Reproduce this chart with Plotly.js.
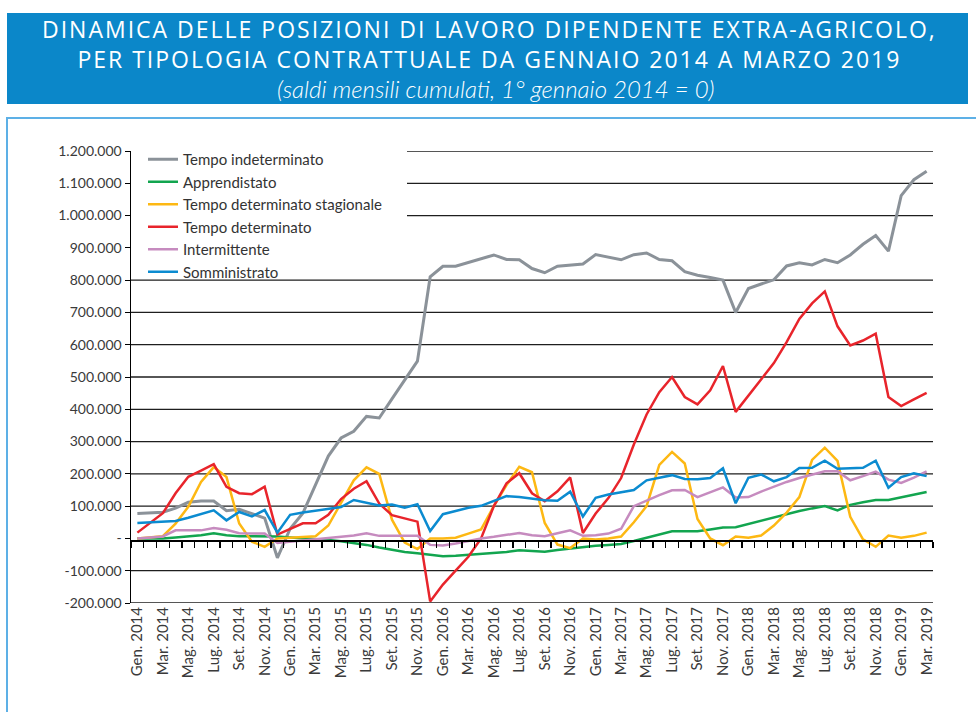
<!DOCTYPE html>
<html>
<head>
<meta charset="utf-8">
<script src="https://cdn.plot.ly/plotly-3.0.1.min.js"></script>
<style>html,body{margin:0;padding:0;background:#fff;}#chart{width:976px;height:712px;}</style>
</head>
<body>
<div id="chart"></div>
<script>
// ---- data (thousands of positions, cumulative monthly balances) ----
const monthNames = ["Gen.","Feb.","Mar.","Apr.","Mag.","Giu.","Lug.","Ago.","Set.","Ott.","Nov.","Dic."];
const years = [2014, 2015, 2016, 2017, 2018, 2019];
const nMonths = 63; // Gen. 2014 .. Mar. 2019

const tempoIndeterminato = [77,79,81,94,112,116,116,86,90,77,63,-60,30,78,165,255,311,332,378,373,432,491,549,810,843,843,855,868,878,864,863,836,823,843,846,850,879,872,863,879,884,864,860,826,815,808,800,700,774,788,801,844,854,847,864,854,878,911,938,890,1062,1111,1137];
const apprendistato = [0,0,0,3,6,10,16,10,7,7,7,6,3,1,-2,-5,-9,-14,-20,-28,-36,-42,-46,-50,-55,-54,-51,-50,-46,-42,-37,-40,-41,-36,-31,-26,-23,-20,-17,-8,2,13,22,22,22,28,34,35,45,56,66,77,85,93,100,87,104,112,119,119,128,136,144];
const tempoDetStagionale = [0,3,7,46,98,175,221,190,46,-10,-26,0,2,4,7,40,108,180,220,200,58,-13,-33,0,0,2,15,28,100,165,222,205,48,-19,-30,0,-3,0,6,50,100,228,268,232,60,0,-21,6,2,9,40,80,128,243,281,240,67,-3,-26,9,2,8,18];
const tempoDeterminato = [18,48,78,140,191,210,230,160,140,137,160,12,30,47,47,73,122,154,177,108,72,62,52,-195,-143,-100,-57,0,100,171,202,140,115,146,189,17,77,125,187,291,384,453,500,438,415,459,534,392,443,493,543,608,680,728,765,657,598,613,634,438,410,431,451];
const intermittente = [0,2,6,25,25,25,32,27,16,15,15,-14,-10,-7,-4,1,6,9,16,8,8,8,8,-20,-22,-16,-8,0,5,10,17,10,7,16,25,8,10,15,30,100,118,134,149,150,128,143,158,127,128,145,161,175,187,198,208,208,180,193,207,182,172,188,208];
const somministrato = [48,50,52,54,64,76,87,56,82,68,88,18,73,80,86,92,97,119,110,102,105,95,106,23,75,86,95,101,115,131,128,124,118,117,145,68,126,136,144,150,180,189,196,184,183,187,217,109,188,198,177,190,218,219,241,216,217,219,241,157,190,202,193];

const seriesNames = ["Tempo indeterminato","Apprendistato","Tempo determinato stagionale","Tempo determinato","Intermittente","Somministrato"];
const seriesColors = ["#8b9299","#12a54f","#fdb813","#e8242b","#c68bbf","#0b8bd0"];

const yTickVals = [-200000,-100000,0,100000,200000,300000,400000,500000,600000,700000,800000,900000,1000000,1100000,1200000];
const yTickText = ["-200.000","-100.000","-","100.000","200.000","300.000","400.000","500.000","600.000","700.000","800.000","900.000","1.000.000","1.100.000","1.200.000"];

const titleLines = ["DINAMICA DELLE POSIZIONI DI LAVORO DIPENDENTE EXTRA-AGRICOLO,", "PER TIPOLOGIA CONTRATTUALE DA GENNAIO 2014 A MARZO 2019"];
const subtitle = "(saldi mensili cumulati, 1° gennaio 2014 = 0)";

// ---- categories ----
const months = [];
for (let i = 0; i < nMonths; i++) {
  months.push(monthNames[i % 12] + " " + years[Math.floor(i / 12)]);
}
const labelIdx = [], labelText = [];
for (let i = 0; i < nMonths; i += 2) { labelIdx.push(i); labelText.push(months[i]); }

// ---- geometry helpers (page px -> paper) ----
const W = 976, H = 712;
const M = {l: 131, r: 43, t: 151, b: 109};
const pw = W - M.l - M.r, ph = H - M.t - M.b;
const px = x => (x - M.l) / pw;
const py = y => (H - M.b - y) / ph;

const allSeries = [tempoIndeterminato, apprendistato, tempoDetStagionale, tempoDeterminato, intermittente, somministrato];
const traces = allSeries.map((s, k) => ({
  type: "scatter",
  mode: "lines",
  name: seriesNames[k],
  x: months,
  y: s.map(v => v * 1000),
  line: {color: seriesColors[k], width: k === 0 ? 3 : 2.5},
  hoverinfo: "x+y+name"
}));
// empty helper trace so that the bottom label axis (x2) is drawn
traces.push({type: "scatter", mode: "lines", x: labelIdx, y: labelIdx.map(() => null),
  xaxis: "x2", yaxis: "y", showlegend: false, hoverinfo: "skip"});

// gridlines (900.000 absent, top three start right of legend)
const shapes = [];
yTickVals.forEach(v => {
  if (v === 0 || v === 900000) return;
  shapes.push({type: "line", xref: "paper", yref: "y", x0: v >= 1000000 ? px(407) : 0, x1: 1, y0: v, y1: v,
    line: {color: "#1e1e1e", width: 1.3}, layer: "below"});
});
// title banner
shapes.push({type: "rect", xref: "paper", yref: "paper", x0: px(7), x1: px(968), y0: py(104), y1: py(13),
  fillcolor: "#0b87c9", line: {width: 0}, layer: "below"});
// frame
shapes.push({type: "rect", xref: "paper", yref: "paper", x0: px(7), x1: px(990), y0: py(730), y1: py(118),
  fillcolor: "rgba(0,0,0,0)", line: {color: "#5db0e6", width: 2}, layer: "below"});

const spaced = t => '<span style="letter-spacing:2px">' + t + '</span>';
const annotations = [
  {text: titleLines.map(spaced).join("<br>"), x: px(489), y: py(44), xref: "paper", yref: "paper",
   showarrow: false, xanchor: "center", yanchor: "middle", align: "center",
   font: {family: "Open Sans", size: 23, color: "#ffffff"}},
  {text: "<i>" + subtitle + "</i>", x: px(496), y: py(88), xref: "paper", yref: "paper",
   showarrow: false, xanchor: "center", yanchor: "middle",
   font: {family: "Lato", size: 24, color: "#ffffff", weight: 300}}
];

const layout = {
  width: W, height: H,
  margin: M,
  paper_bgcolor: "#ffffff", plot_bgcolor: "rgba(0,0,0,0)",
  font: {family: "Lato", size: 14, color: "#3a3a3a"},
  showlegend: true,
  legend: {x: px(143), y: py(143), xanchor: "left", yanchor: "top", bgcolor: "rgba(0,0,0,0)",
    font: {family: "Lato", size: 15, color: "#333333"}, tracegroupgap: 0, itemwidth: 30},
  xaxis: {
    type: "category", range: [-0.5, nMonths - 0.5], anchor: "free", position: py(540),
    showline: true, linecolor: "#000000", linewidth: 1.5,
    ticks: "outside", tickson: "boundaries", ticklen: 6, tickcolor: "#000000", tickwidth: 1.3,
    tickmode: "linear", tick0: 0, dtick: 1,
    showticklabels: false, showgrid: false, zeroline: false, fixedrange: true
  },
  xaxis2: {
    type: "linear", overlaying: "x", anchor: "y", side: "bottom", range: [-0.5, nMonths - 0.5],
    tickmode: "array", tickvals: labelIdx, ticktext: labelText, tickangle: -90,
    ticks: "", showline: false, showgrid: false, zeroline: false,
    tickfont: {family: "Lato", size: 15, color: "#3a3a3a"}, fixedrange: true
  },
  yaxis: {
    range: [-200000, 1200000], tickmode: "array", tickvals: yTickVals, ticktext: yTickText,
    showline: true, linecolor: "#000000", linewidth: 1.5, ticks: "outside", ticklen: 5, tickcolor: "#000000",
    showgrid: false, zeroline: false, tickfont: {family: "Lato", size: 14, color: "#3a3a3a"}, fixedrange: true
  },
  shapes: shapes,
  annotations: annotations
};

Plotly.newPlot("chart", traces, layout, {displayModeBar: false, staticPlot: true});
</script>
</body>
</html>
